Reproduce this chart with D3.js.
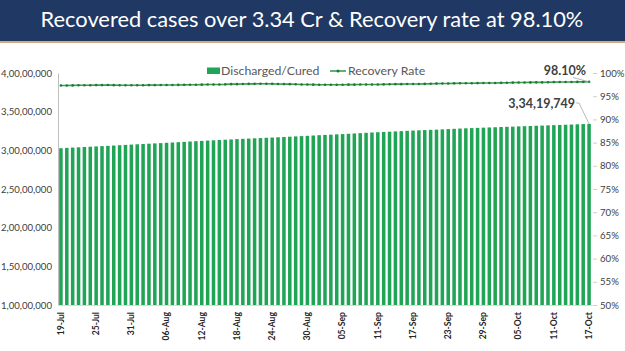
<!DOCTYPE html>
<html>
<head>
<meta charset="utf-8">
<script src="https://cdn.jsdelivr.net/npm/d3@7"></script>
<style>
  html, body { margin: 0; padding: 0; background: #fff; }
  svg { display: block; font-family: Lato, "Open Sans", sans-serif; }
</style>
</head>
<body>
<div id="chart"></div>
<script>
// Data
const titleText = 'Recovered cases over 3.34 Cr & Recovery rate at 98.10%'
const startDate = new Date(2021, 6, 19)
const endDate = new Date(2021, 9, 17)

// cumulative discharged / cured, in lakh
const curedJul = [302.79, 303.18, 303.56, 303.93, 304.29, 304.68, 305.04, 305.43, 305.79, 306.21, 306.63, 307.01, 307.43]
const curedAug = [307.81, 308.20, 308.57, 308.96, 309.33, 309.74, 310.15, 310.55, 310.96, 311.39,
  311.80, 312.20, 312.60, 312.99, 313.38, 313.76, 314.11, 314.48, 314.85, 315.21,
  315.55, 315.88, 316.22, 316.55, 316.91, 317.29, 317.64, 318.02, 318.40, 318.77, 319.17]
const curedSep = [319.59, 319.93, 320.28, 320.68, 321.00, 321.42, 321.81, 322.24, 322.64, 323.04,
  323.42, 323.74, 324.09, 324.49, 324.84, 325.22, 325.56, 325.90, 326.21, 326.49,
  326.78, 327.15, 327.49, 327.83, 328.15, 328.48, 328.76, 329.02, 329.31, 329.58]
const curedOct = [329.86, 330.14, 330.39, 330.64, 330.94, 331.21, 331.46, 331.75, 332.02, 332.29,
  332.57, 332.82, 333.08, 333.38, 333.66, 333.95, 334.19749]

// recovery rate, %
const rateJul = [97.31, 97.32, 97.33, 97.35, 97.36, 97.37, 97.39, 97.39, 97.40, 97.38, 97.37, 97.36, 97.36]
const rateAug = [97.36, 97.37, 97.39, 97.39, 97.40, 97.40, 97.42, 97.43, 97.45, 97.46,
  97.48, 97.49, 97.51, 97.52, 97.53, 97.55, 97.60, 97.60, 97.64, 97.65,
  97.66, 97.67, 97.68, 97.66, 97.63, 97.61, 97.60, 97.57, 97.53, 97.51, 97.49]
const rateSep = [97.48, 97.48, 97.48, 97.46, 97.46, 97.49, 97.49, 97.51, 97.51, 97.51,
  97.52, 97.55, 97.57, 97.60, 97.60, 97.63, 97.63, 97.64, 97.65, 97.67,
  97.72, 97.73, 97.75, 97.77, 97.78, 97.78, 97.80, 97.82, 97.84, 97.85]
const rateOct = [97.86, 97.88, 97.89, 97.93, 97.94, 97.95, 97.97, 97.99, 97.99, 98.00,
  98.04, 98.05, 98.06, 98.07, 98.08, 98.09, 98.10]

const tickLabels = ['19-Jul', '25-Jul', '31-Jul', '06-Aug', '12-Aug', '18-Aug', '24-Aug', '30-Aug',
  '05-Sep', '11-Sep', '17-Sep', '23-Sep', '29-Sep', '05-Oct', '11-Oct', '17-Oct']
const leftTicks = [10000000, 15000000, 20000000, 25000000, 30000000, 35000000, 40000000]
const rightTicks = [50, 55, 60, 65, 70, 75, 80, 85, 90, 95, 100]

function draw() {
  const dates = d3.timeDay.range(startDate, d3.timeDay.offset(endDate, 1))
  const cured = [...curedJul, ...curedAug, ...curedSep, ...curedOct]
  const rate = [...rateJul, ...rateAug, ...rateSep, ...rateOct]
  const dataset = dates.map((d, i) => ({ date: d, cured: Math.round(cured[i] * 100000), rate: rate[i] }))

  const fmtDate = d3.timeFormat('%d-%b')

  // Indian digit grouping 3,34,19,749
  function fmtIndian(n) {
    const s = String(Math.round(n))
    if (s.length <= 3) return s
    let head = s.slice(0, -3)
    const tail = s.slice(-3)
    head = head.replace(/\B(?=(\d{2})+(?!\d))/g, ',')
    return head + ',' + tail
  }

  // Dimensions
  let dimensions = {
    width: 625,
    height: 351,
    left: 58,
    right: 592,
    top: 73,
    bottom: 305
  }

  const barColor = '#20a556'
  const lineColor = '#3a9e4e'
  const dotColor = '#1d7a37'
  const textColor = '#404040'

  // Draw Image
  const svg = d3.select('#chart')
    .append('svg')
    .attr('width', dimensions.width)
    .attr('height', dimensions.height)

  // Header
  svg.append('rect')
    .attr('x', 0).attr('y', 0)
    .attr('width', dimensions.width).attr('height', 41)
    .attr('fill', '#203864')
  svg.append('rect')
    .attr('x', 0).attr('y', 41)
    .attr('width', dimensions.width).attr('height', 2)
    .attr('fill', '#d6a97c')

  const title = svg.append('text')
    .attr('x', 312)
    .attr('y', 27)
    .attr('text-anchor', 'middle')
    .attr('fill', '#ffffff')
    .style('font-size', '20px')
    .text(titleText)
  const tw = title.node().getComputedTextLength()
  title.style('font-size', (20 * 543 / tw).toFixed(2) + 'px')

  // Scales
  const xScale = d3.scaleBand()
    .domain(dates)
    .range([dimensions.left, dimensions.right])
    .paddingInner(0.4)
    .paddingOuter(0.2)

  const yLeft = d3.scaleLinear()
    .domain([10000000, 40000000])
    .range([dimensions.bottom, dimensions.top])

  const yRight = d3.scaleLinear()
    .domain([50, 100])
    .range([dimensions.bottom, dimensions.top])

  // Bars
  svg.append('g')
    .selectAll('rect')
    .data(dataset)
    .join('rect')
    .attr('x', d => xScale(d.date))
    .attr('width', xScale.bandwidth())
    .attr('y', d => yLeft(d.cured))
    .attr('height', d => dimensions.bottom - yLeft(d.cured))
    .attr('fill', barColor)

  // Left axis
  const leftAxis = svg.append('g')
    .attr('transform', `translate(${dimensions.left}, 0)`)
    .call(d3.axisLeft(yLeft).tickValues(leftTicks).tickFormat(fmtIndian).tickSize(0).tickPadding(6))
  leftAxis.select('.domain').attr('stroke', '#bfbfbf')
  leftAxis.selectAll('text')
    .attr('fill', textColor)
    .style('font-size', '9.6px')
    .style('font-family', 'Lato, sans-serif')

  // Right axis
  const rightAxis = svg.append('g')
    .attr('transform', `translate(${dimensions.right + 1}, 0)`)
    .call(d3.axisRight(yRight).tickValues(rightTicks).tickFormat(d => d + '%').tickSize(4).tickPadding(3))
  rightAxis.select('.domain').remove()
  rightAxis.selectAll('line').attr('stroke', '#d0d0d0')
  rightAxis.selectAll('text')
    .attr('fill', textColor)
    .style('font-size', '9.6px')
    .style('font-family', 'Lato, sans-serif')

  // Bottom axis
  const tickDates = dates.filter(d => tickLabels.includes(fmtDate(d)))
  const bottomAxis = svg.append('g')
    .attr('transform', `translate(0, ${dimensions.bottom})`)
    .call(d3.axisBottom(xScale).tickValues(tickDates).tickFormat(fmtDate).tickSize(0).tickPadding(0))
  bottomAxis.select('.domain').attr('stroke', '#d9d9d9')
  bottomAxis.selectAll('text')
    .attr('fill', '#262626')
    .attr('text-anchor', 'end')
    .attr('transform', 'rotate(-90)')
    .attr('x', -7)
    .attr('y', 0)
    .attr('dy', '0.32em')
    .style('font-size', '8.6px')
    .style('font-weight', 'bold')
    .style('font-family', 'Lato, sans-serif')

  // Recovery rate line
  const xCenter = d => xScale(d.date) + xScale.bandwidth() / 2
  const line = d3.line()
    .x(xCenter)
    .y(d => yRight(d.rate))

  svg.append('path')
    .datum(dataset)
    .attr('d', line)
    .attr('fill', 'none')
    .attr('stroke', lineColor)
    .attr('stroke-width', 1.6)

  svg.append('g')
    .selectAll('circle')
    .data(dataset)
    .join('circle')
    .attr('cx', xCenter)
    .attr('cy', d => yRight(d.rate))
    .attr('r', 1.3)
    .attr('fill', dotColor)

  // Legend
  const legend = svg.append('g')
    .style('font-size', '12.3px')
    .attr('fill', '#595959')
  legend.append('rect')
    .attr('x', 207).attr('y', 67.5)
    .attr('width', 13).attr('height', 6.5)
    .attr('fill', barColor)
  legend.append('text')
    .attr('x', 221).attr('y', 75)
    .text('Discharged/Cured')
  legend.append('line')
    .attr('x1', 330).attr('x2', 346)
    .attr('y1', 71).attr('y2', 71)
    .attr('stroke', lineColor)
    .attr('stroke-width', 1.6)
  legend.append('circle')
    .attr('cx', 338).attr('cy', 71).attr('r', 1.5)
    .attr('fill', dotColor)
  legend.append('text')
    .attr('x', 348).attr('y', 75)
    .text('Recovery Rate')

  // Annotations for the last day
  const last = dataset[dataset.length - 1]
  const lx = xCenter(last)

  svg.append('line')
    .attr('x1', lx - 16).attr('y1', 77.5)
    .attr('x2', lx).attr('y2', yRight(last.rate))
    .attr('stroke', '#a6a6a6')
    .attr('stroke-width', 0.8)
  svg.append('text')
    .attr('x', lx - 3)
    .attr('y', 75)
    .attr('text-anchor', 'end')
    .attr('fill', textColor)
    .style('font-size', '12.5px')
    .style('font-weight', 'bold')
    .text(last.rate.toFixed(2) + '%')

  svg.append('polyline')
    .attr('points', `${lx - 13},103 ${lx - 10},103 ${lx},${yLeft(last.cured)}`)
    .attr('fill', 'none')
    .attr('stroke', '#a6a6a6')
    .attr('stroke-width', 0.8)
  svg.append('text')
    .attr('x', lx - 14)
    .attr('y', 107.5)
    .attr('text-anchor', 'end')
    .attr('fill', textColor)
    .style('font-size', '12.5px')
    .style('font-weight', 'bold')
    .text(fmtIndian(last.cured))
}

draw()
</script>
</body>
</html>
